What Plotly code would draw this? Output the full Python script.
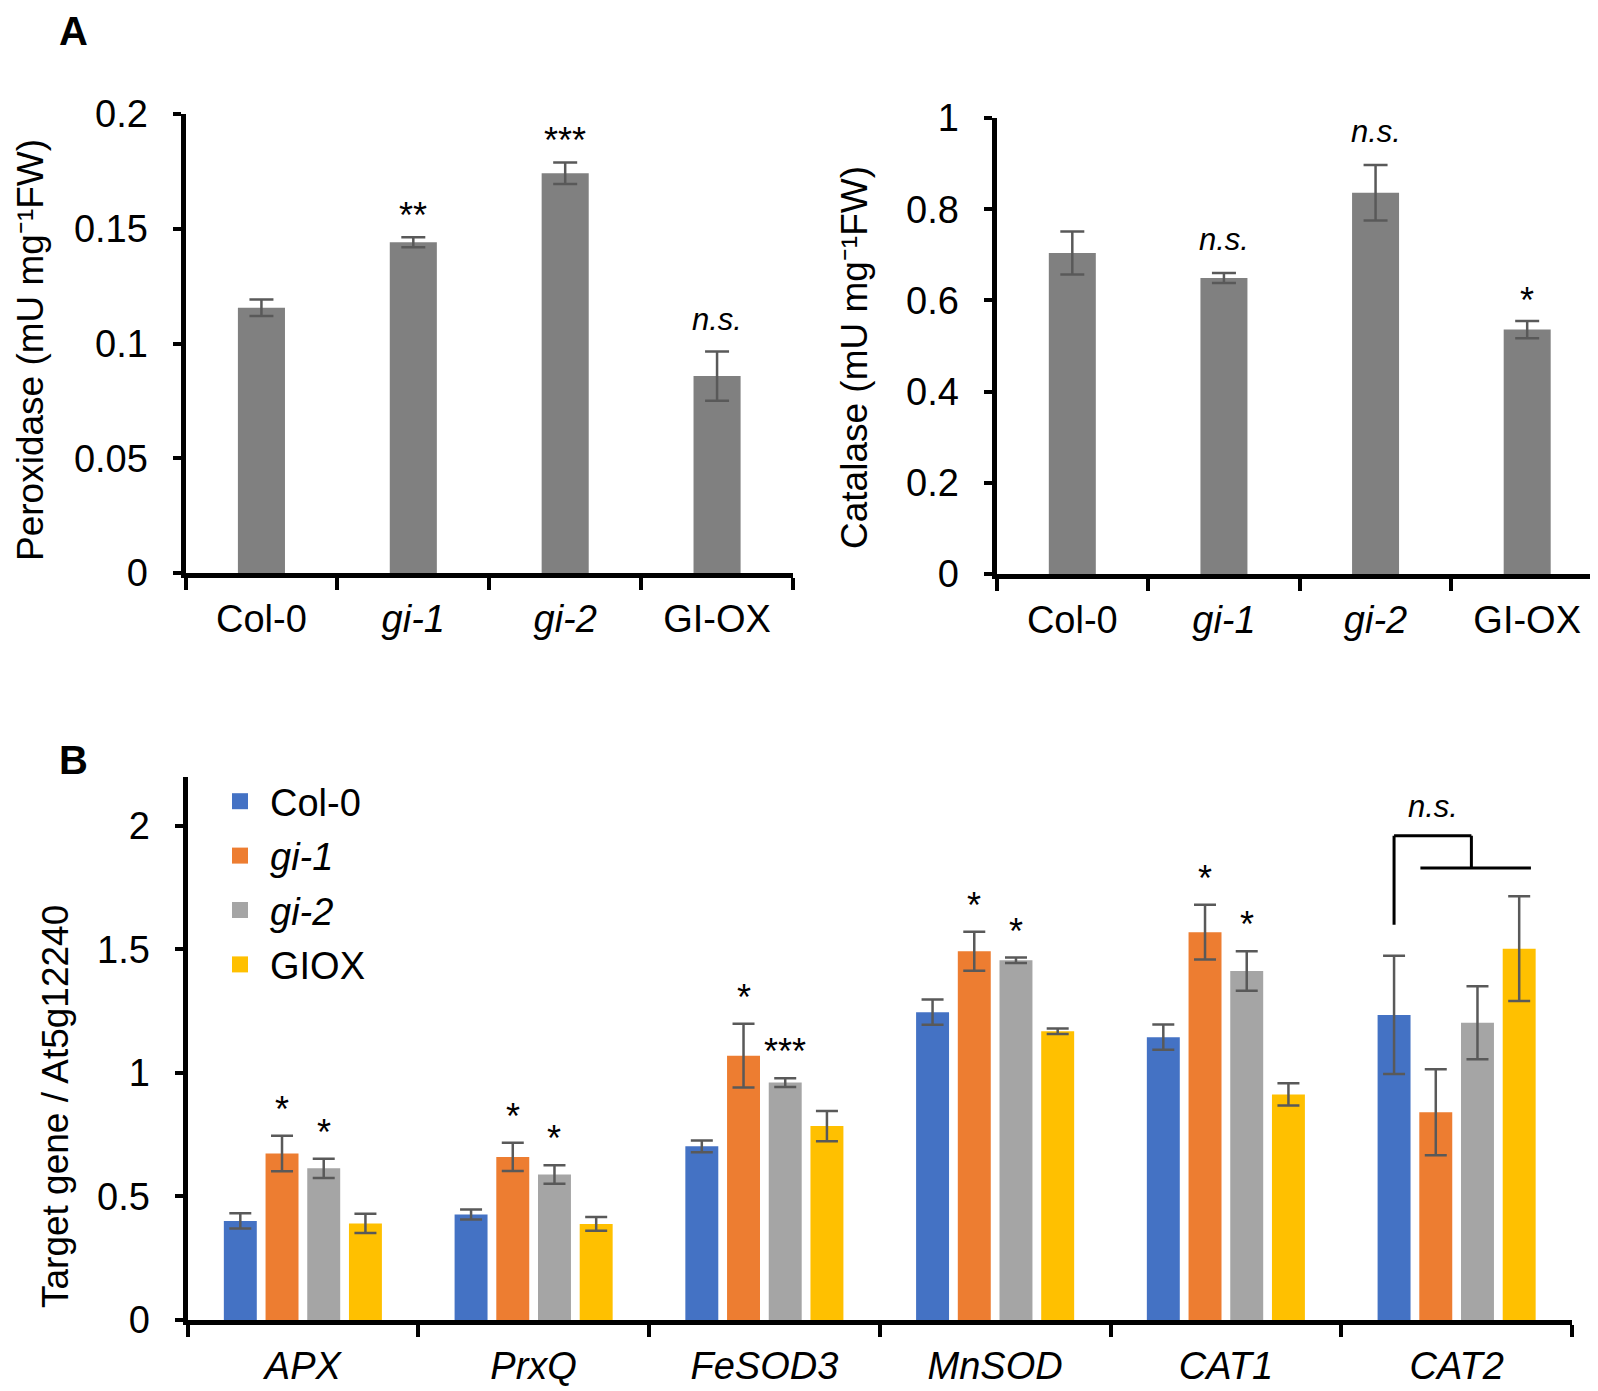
import plotly.graph_objects as go

# the page puts the figure 8 px below the window top
TOP_OFF = 8
W, H = 1598, 1391 - TOP_OFF
FONT = "Liberation Sans, Arial, sans-serif"


def px(xp):
    return xp / W


def py(yp):
    return 1 - (yp - TOP_OFF) / H


# ---------------- Panel A data ----------------
genotypes = ["Col-0", "gi-1", "gi-2", "GI-OX"]
genotype_labels = ["Col-0", "<i>gi-1</i>", "<i>gi-2</i>", "GI-OX"]
peroxidase = [0.1156, 0.1441, 0.1742, 0.0858]
peroxidase_err = [0.0036, 0.0022, 0.0047, 0.0107]
peroxidase_sig = ["", "**", "***", "<i>n.s.</i>"]
catalase = [0.704, 0.649, 0.836, 0.536]
catalase_err = [0.047, 0.011, 0.061, 0.019]
catalase_sig = ["", "<i>n.s.</i>", "<i>n.s.</i>", "*"]

# ---------------- Panel B data ----------------
genes = ["APX", "PrxQ", "FeSOD3", "MnSOD", "CAT1", "CAT2"]
gene_labels = ["<i>%s</i>" % g for g in genes]
series_names = ["Col-0", "<i>gi-1</i>", "<i>gi-2</i>", "GIOX"]
series_colors = ["#4472C4", "#ED7D31", "#A5A5A5", "#FFC000"]
col0 = [0.401, 0.427, 0.703, 1.246, 1.145, 1.235]
col0_err = [0.031, 0.020, 0.024, 0.051, 0.051, 0.239]
gi1 = [0.674, 0.660, 1.070, 1.493, 1.570, 0.841]
gi1_err = [0.072, 0.057, 0.129, 0.079, 0.111, 0.174]
gi2 = [0.614, 0.589, 0.961, 1.456, 1.413, 1.203]
gi2_err = [0.039, 0.037, 0.018, 0.011, 0.080, 0.148]
giox = [0.391, 0.389, 0.785, 1.169, 0.913, 1.503]
giox_err = [0.039, 0.028, 0.061, 0.011, 0.045, 0.212]
gi1_sig = ["*", "*", "*", "*", "*", ""]
gi2_sig = ["*", "*", "***", "*", "*", ""]
# CAT2 bracket (n.s.) levels
bracket_low, bracket_high, bracket_mid = 1.60, 1.96, 1.83

series_vals = [col0, gi1, gi2, giox]
series_errs = [col0_err, gi1_err, gi2_err, giox_err]

BARGAP = 0.277
BARGROUPGAP = 0.21
ERR_COLOR = "#595959"

fig = go.Figure()

# Panel A bars
fig.add_trace(go.Bar(
    x=genotypes, y=peroxidase, width=0.31, marker=dict(color="#808080", line=dict(width=0)),
    error_y=dict(type="data", array=peroxidase_err, color=ERR_COLOR, thickness=2.5, width=12),
    xaxis="x", yaxis="y", showlegend=False))
fig.add_trace(go.Bar(
    x=genotypes, y=catalase, width=0.31, marker=dict(color="#808080", line=dict(width=0)),
    error_y=dict(type="data", array=catalase_err, color=ERR_COLOR, thickness=2.5, width=12),
    xaxis="x2", yaxis="y2", showlegend=False))

# Panel B grouped bars
for idx, (name, vals, errs, col) in enumerate(zip(series_names, series_vals, series_errs, series_colors)):
    fig.add_trace(go.Bar(
        x=genes, y=vals, name=name, marker=dict(color=col, line=dict(width=0)),
        error_y=dict(type="data", array=errs, color=ERR_COLOR, thickness=2.5, width=11),
        xaxis="x3", yaxis="y3", showlegend=False))
    # legend proxy with larger square symbol
    fig.add_trace(go.Scatter(
        x=[None], y=[None], mode="markers", name=name, legendgroup="g%d" % idx,
        marker=dict(symbol="square", size=20, color=col),
        xaxis="x3", yaxis="y3", showlegend=True))

annotations = []
star_font = dict(family=FONT, size=36, color="black")
ns_font = dict(family=FONT, size=31, color="black")


def sig_ann(xref, yref, x, y, text, yshift):
    f = ns_font if "n.s." in text else star_font
    annotations.append(dict(xref=xref, yref=yref, x=x, y=y, text=text, showarrow=False,
                            yanchor="bottom", xanchor="center", font=f, yshift=yshift))


for g, v, e, s in zip(genotypes, peroxidase, peroxidase_err, peroxidase_sig):
    if s:
        sig_ann("x", "y", g, v + e, s, -1 if "n.s." not in s else 13)
for g, v, e, s in zip(genotypes, catalase, catalase_err, catalase_sig):
    if s:
        sig_ann("x2", "y2", g, v + e, s, -2 if "n.s." not in s else 14)

slot = (1 - BARGAP) / 4.0
for k, (vals, errs, sigs) in enumerate([(gi1, gi1_err, gi1_sig), (gi2, gi2_err, gi2_sig)]):
    off = (k + 1 - 1.5) * slot
    for i, (v, e, s) in enumerate(zip(vals, errs, sigs)):
        if s:
            sig_ann("x3", "y3", i + off, v + e, s, 4)

# CAT2 bracket
ci = genes.index("CAT2")
x_blue = ci - 1.5 * slot
x_drop = ci + 0.064
x_lo0 = ci - 0.157
x_lo1 = ci + 0.322
blk = dict(color="black", width=3)
shapes = [
    dict(type="line", xref="x3", yref="y3", x0=x_blue, x1=x_blue, y0=bracket_low, y1=bracket_high, line=blk),
    dict(type="line", xref="x3", yref="y3", x0=x_blue, x1=x_drop, y0=bracket_high, y1=bracket_high, line=blk),
    dict(type="line", xref="x3", yref="y3", x0=x_drop, x1=x_drop, y0=bracket_high, y1=bracket_mid, line=blk),
    dict(type="line", xref="x3", yref="y3", x0=x_lo0, x1=x_lo1, y0=bracket_mid, y1=bracket_mid, line=blk),
]
annotations.append(dict(xref="x3", yref="y3", x=(x_blue + x_drop) / 2, y=bracket_high, text="<i>n.s.</i>",
                        showarrow=False, yanchor="bottom", font=ns_font, yshift=10))

# panel letters
letter_font = dict(family=FONT, size=40, color="black")
annotations.append(dict(xref="paper", yref="paper", x=px(65), y=py(31), text="<b>A</b>", showarrow=False,
                        xanchor="center", yanchor="middle", font=letter_font))
annotations.append(dict(xref="paper", yref="paper", x=px(65), y=py(760), text="<b>B</b>", showarrow=False,
                        xanchor="center", yanchor="middle", font=letter_font))

# y-axis titles (rotated text)
titlefont = dict(family=FONT, size=37, color="black")
for tx, tyc, ttext in [(22, 350, "Peroxidase (mU mg\u207b\u00b9FW)"),
                       (846, 358, "Catalase (mU mg\u207b\u00b9FW)"),
                       (47, 1107, "Target gene / At5g12240")]:
    annotations.append(dict(xref="paper", yref="paper", x=px(tx), y=py(tyc), text=ttext, textangle=-90,
                            showarrow=False, xanchor="center", yanchor="middle", font=titlefont))

tickfont = dict(family=FONT, size=38, color="black")


def xax(x0, x1, anchor, ticktext, cats):
    return dict(domain=[px(x0), min(1.0, px(x1))], anchor=anchor, type="category",
                categoryorder="array", categoryarray=cats,
                tickmode="array", tickvals=cats, ticktext=ticktext, automargin=False,
                showline=True, linecolor="black", linewidth=5, ticks="outside", tickson="boundaries",
                ticklen=12, tickwidth=4, tickcolor="black", showgrid=False, zeroline=False,
                tickfont=tickfont, ticklabelstandoff=8, fixedrange=True)


def yax(ybot, ytop, anchor, rng, dtick):
    return dict(domain=[py(ybot), py(ytop)], anchor=anchor, range=rng, dtick=dtick, tick0=0, automargin=False,
                showline=True, linecolor="black", linewidth=5, ticks="outside",
                ticklen=8, tickwidth=4, tickcolor="black", showgrid=False, zeroline=False,
                tickfont=tickfont, ticklabelstandoff=17, fixedrange=True)


fig.update_layout(
    width=W, height=H,
    margin=dict(l=0, r=0, t=0, b=0, autoexpand=False),
    paper_bgcolor="white", plot_bgcolor="white",
    font=dict(family=FONT, color="black"),
    barmode="group", bargap=BARGAP, bargroupgap=BARGROUPGAP,
    xaxis=xax(177.5, 785, "y", genotype_labels, genotypes),
    yaxis=yax(573, 114, "x", [0, 0.2], 0.05),
    xaxis2=xax(988.5, 1595, "y2", genotype_labels, genotypes),
    yaxis2=yax(574, 118, "x2", [0, 1], 0.2),
    xaxis3=xax(179.5, 1564, "y3", gene_labels, genes),
    yaxis3=yax(1320, 776.5, "x3", [0, 2.2], 0.5),
    legend=dict(x=px(202), y=py(770), xanchor="left", yanchor="top",
                font=dict(family=FONT, size=38, color="black"), bgcolor="rgba(0,0,0,0)",
                itemsizing="trace", itemwidth=50, tracegroupgap=2, traceorder="grouped"),
    annotations=annotations,
    shapes=shapes,
    showlegend=True,
)

fig.write_html("out.html")
